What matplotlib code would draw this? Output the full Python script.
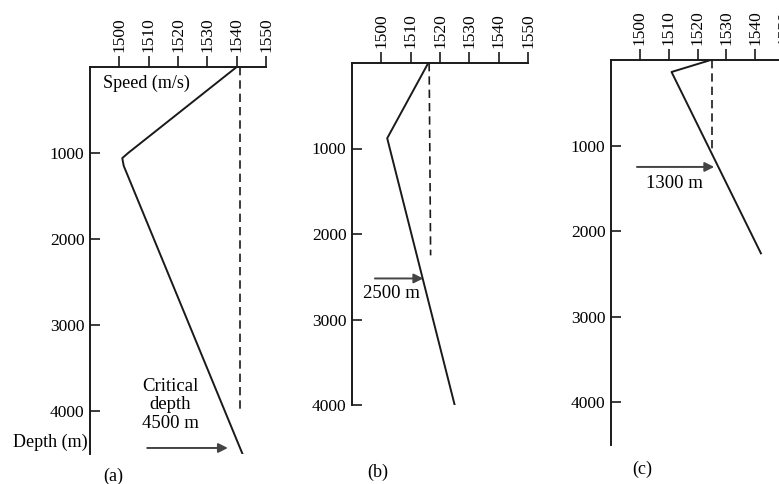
import matplotlib
matplotlib.use('Agg')
import matplotlib.pyplot as plt

plt.rcParams['font.family'] = ['Liberation Serif', 'DejaVu Serif']
plt.rcParams['font.size'] = 12.5

# speed ticks and depth ticks
speed_ticks = [1500, 1510, 1520, 1530, 1540, 1550]
depth_ticks = [1000, 2000, 3000, 4000]

# (a) profile
a_speed = [1540, 1503, 1501, 1501.5, 1542]
a_depth = [0, 1000, 1060, 1150, 4500]
a_dash_speed = [1541, 1541]
a_dash_depth = [0, 3980]

# (b) profile
b_speed = [1516, 1502, 1525]
b_depth = [0, 880, 4000]
b_dash_speed = [1516.3, 1516.8]
b_dash_depth = [0, 2250]

# (c) profile
c_speed = [1524.6, 1511, 1542]
c_depth = [0, 140, 2260]
c_dash_speed = [1525, 1525]
c_dash_depth = [0, 1090]

W, H = 779, 484
fig = plt.figure(figsize=(W / 100, H / 100), dpi=100)
ink = '#1a1a1a'

def make_ax(left, top, right, bottom, ymax):
    ax = fig.add_axes([left / W, 1 - bottom / H, (right - left) / W, (bottom - top) / H])
    ax.set_xlim(1490, 1550)
    ax.set_ylim(ymax, 0)
    ax.patch.set_alpha(0)
    for s in ['right', 'bottom']:
        ax.spines[s].set_visible(False)
    for s in ['left', 'top']:
        ax.spines[s].set_linewidth(1.4)
        ax.spines[s].set_color(ink)
    ax.xaxis.tick_top()
    ax.set_xticks(speed_ticks)
    ax.set_xticklabels([str(t) for t in speed_ticks], rotation=90)
    ax.set_yticks(depth_ticks)
    ax.tick_params(axis='x', direction='out', length=8, width=1.2, color=ink, pad=3)
    ax.tick_params(axis='y', direction='in', length=7, width=1.2, color=ink, pad=4)
    return ax

def arrow(ax, x0, x1, y):
    ax.annotate('', xy=(x1, y), xytext=(x0, y),
                arrowprops=dict(arrowstyle='-|>', color='#444444', lw=1.4,
                                mutation_scale=14, shrinkA=0, shrinkB=0))

# panel (a)
ax = make_ax(90, 67, 266, 454, 4500)
ax.plot(a_speed, a_depth, color=ink, lw=1.4, solid_joinstyle='round')
ax.plot(a_dash_speed, a_dash_depth, color=ink, lw=1.2, dashes=(5, 3))
ax.text(1494.4, 190, 'Speed (m/s)', ha='left', va='center', fontsize=13)
ax.text(1517.3, 3930, 'Critical\ndepth\n4500 m', ha='center', va='center',
        linespacing=1.1, fontsize=13.5)
arrow(ax, 1509.5, 1537, 4430)
fig.text(88 / W, 1 - 442 / H, 'Depth (m)', ha='right', va='center', fontsize=13)
fig.text(113 / W, 1 - 476 / H, '(a)', ha='center', va='center', fontsize=13)

# panel (b)
ax = make_ax(352, 63, 528, 405, 4000)
ax.plot(b_speed, b_depth, color=ink, lw=1.4)
ax.plot(b_dash_speed, b_dash_depth, color=ink, lw=1.2, dashes=(5, 3))
ax.text(1503.3, 2700, '2500 m', ha='center', va='center', fontsize=13.5)
arrow(ax, 1497.8, 1514.3, 2520)
fig.text(378 / W, 1 - 472 / H, '(b)', ha='center', va='center', fontsize=13)

# panel (c) - runs off the right edge as in the scan
ax = make_ax(611, 60, 784, 445, 4500)
ax.plot(c_speed, c_depth, color=ink, lw=1.4)
ax.plot(c_dash_speed, c_dash_depth, color=ink, lw=1.2, dashes=(5, 3))
ax.text(1512, 1440, '1300 m', ha='center', va='center', fontsize=13.5)
arrow(ax, 1499, 1525.8, 1250)
fig.text(642 / W, 1 - 469 / H, '(c)', ha='center', va='center', fontsize=13)

fig.savefig('out.png', dpi=100)
